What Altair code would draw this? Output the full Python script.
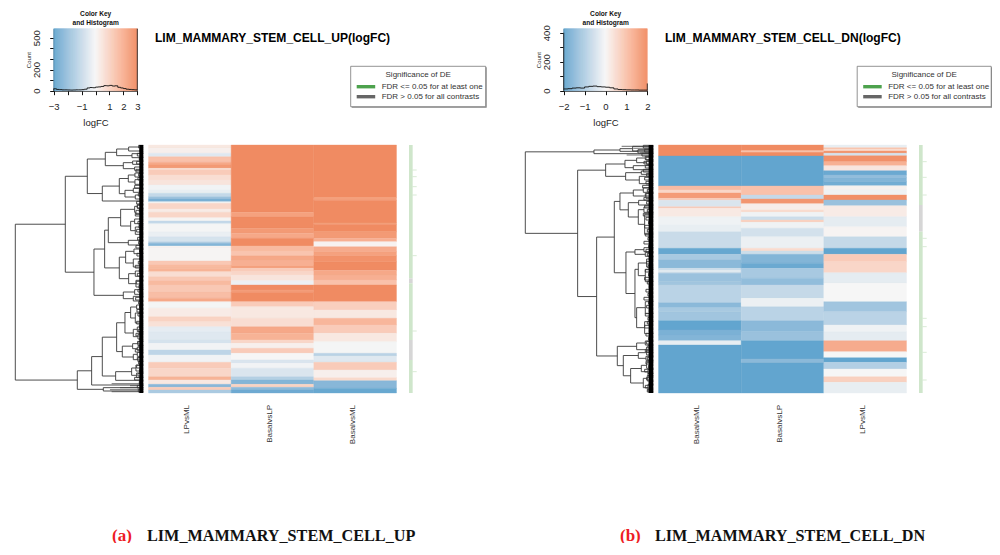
import altair as alt
import pandas as pd

W, H = 984, 535
ORANGE, MID, BLUE = "#F08B62", "#F6F6F6", "#62A5CF"
SANS = "Liberation Sans"
SERIF = "Liberation Serif"

# ---------- panel (a) heat map: row breaks (745 row units) and logFC per segment ----------
a_lp_b = [30,40,55,65,82,90,100,105,120,135,150,165,175,185,192,200,205,222,232,248,258,266,290,305,320,325,333,340,378,390,400,410,425,438,450,470,490,500,505,520,545,560,575,590,615,625,645,660,682,700,725,735,748,757,765,774]
a_lp_v = [0.4,0.2,-0.5,1.5,2.2,2.6,0.7,1.2,0.7,0.5,-0.1,-0.3,-1.1,-1.9,-2.6,0,0.9,0.3,0.9,0.05,-1.1,-0.05,-0.25,-0.7,-1.4,-2.4,0.1,0.05,1.3,1.7,1.9,0.7,1.3,1.7,1.3,1.6,2.2,0,-0.05,0.3,1.0,0.6,-0.35,-0.5,-0.7,-0.1,-1.2,-0.1,1.2,0.9,1.9,0.4,-2.3,1.2,-1.6]
a_bl_b = [30,232,245,280,295,310,333,348,362,375,392,400,410,420,437,450,465,472,500,515,550,575,595,615,625,640,655,675,685,700,725,735,748,757,765,774]
a_bl_v = [3,2.4,3,2.6,2.2,3,1.7,1.4,2.2,2.0,2.4,1.2,0.9,0.5,-0.2,3,2.5,3,1.2,0.4,0.7,2.2,1.9,0.9,0.2,1.2,0,-0.6,-0.1,-0.6,-1.4,-2.4,1.0,-2.2,-2.8]
a_bm_b = [30,188,196,264,268,290,310,320,335,350,362,380,406,420,435,450,500,525,550,570,595,620,655,663,682,705,728,737,760,774]
a_bm_v = [3,2.4,3,2.4,3,2.6,2.0,0.1,2.1,2.4,2.8,3,2.2,2.0,1.5,3,1.1,0.4,1.8,1.2,0.4,-0.05,-1.3,-0.5,1.2,0.2,0.8,-2.3,-2.9]

# ---------- panel (b) heat map ----------
b_bm_b = [30,63,153,165,174,190,196,215,220,245,270,290,340,358,375,400,407,410,415,440,450,503,518,530,557,585,600,617,630,774]
b_bm_v = [2,-2,1.1,0.6,1.7,0.8,-0.4,0.8,0.25,-0.1,-0.2,-0.65,-1.95,-1.1,-1.5,-0.6,-0.1,-0.6,-1.3,-1.2,-0.85,-1.5,-1.1,-1.2,-2,-1.7,-1.6,-0.2,-2]
b_bl_b = [30,47,52,63,153,180,192,206,225,232,245,255,262,280,305,340,348,358,385,400,430,450,490,515,557,590,617,672,684,774]
b_bl_v = [2,0.9,2,-2,1.0,-0.7,1.8,0.15,0.5,-0.1,-0.6,0.7,-0.1,-0.5,-0.15,0.5,-0.6,-1.6,-1.9,-1.1,-1.4,-0.7,-0.15,-0.85,-1.5,-1.3,-2,-1.5,-2]
b_lp_b = [30,38,42,48,55,62,80,92,107,120,128,140,152,165,180,195,212,245,275,305,340,358,380,413,445,500,530,570,590,617,650,668,682,702,725,742,774]
b_lp_v = [-0.2,1.0,0.5,1.8,-0.5,1.9,1.3,0.3,-1.9,-1.4,-1.6,-1.8,0.1,-0.1,1.9,-1.3,0.2,-0.25,0.05,-0.7,-2,0.8,0.6,-0.25,0,-1.2,-0.85,-0.1,-0.25,1.4,0,-2,-0.95,0,0.7,-0.2]

# ---------- histograms in the colour keys ----------
a_hist_edges = [-3,-2.8,-2.6,-2.4,-2.2,-2,-1.8,-1.6,-1.4,-1.2,-1,-0.8,-0.6,-0.4,-0.2,0,0.2,0.4,0.6,0.8,1,1.2,1.4,1.6,1.8,2,2.2,2.4,2.6,2.8,3]
a_hist_count = [18,12,10,8,8,7,6,7,8,8,10,14,26,30,28,34,36,40,48,46,50,44,46,32,26,20,14,12,10,8,8]
b_hist_edges = [-2,-1.8,-1.6,-1.4,-1.2,-1,-0.8,-0.6,-0.4,-0.2,0,0.2,0.4,0.6,0.8,1,1.2,1.4,1.6,1.8,2]
b_hist_count = [12,14,18,20,18,26,30,32,28,26,24,20,12,8,7,6,5,5,4,4,4]

# ---------- dendrograms: (height, child, child), a bare number is a tip at that row ----------
a_tree = (384,
  (234,
    (168,
      (114, (80,(44,36,48),(34,56,68)), (60,(32,78,88),(26,96,106))),
      (123, (72,(45,(25,114,126),(25,134,148)),(55,(30,160,172),(24,180,192))), 198)),
    (148,
      (116,
        (105, (68,(26,(18,208,220),(22,226,238)),(38,(26,252,266),(24,276,298))), (45,316,330)),
        (72, (53,(28,342,356),(30,372,396)), (44,(24,408,424),(22,436,456)))),
      (60,(26,464,478),(30,484,498)))),
  (198,
    (155,
      (123,
        (80,
          (55,(38,(20,510,522),(24,534,564)),(30,(18,576,590),(16,598,612))),
          (63,(32,(16,620,632),(18,636,646)),(30,(18,652,664),(16,668,680)))),
        (83,(35,(22,690,708),(20,714,728)),736)),
      750),
    (120,758,768)))
b_tree = (384,
  (178,
    (100,(62,34,48),(46,44,54)),
    56),
  (227,
    (143,
      (85,(50,(24,64,74),(20,78,88)),(60,92,104)),
      (83,(36,108,118),(42,124,146))),
    (170,
      (117,
        (100,
          (60,(30,158,172),(22,176,190)),
          (75,(44,196,210),(45,(28,216,232),(26,238,298)))),
        (82,
          (55,(28,338,350),(24,352,364)),
          (55,
            (45,(20,372,396),(24,404,440)),
            (50,(24,500,536),(26,560,596))))),
      (108,
        (50,(24,618,630),(20,636,652)),
        (90,
          (45,(20,646,660),(22,664,676)),
          (68,(36,(20,682,700),(16,704,716)),(30,(18,722,738),(16,748,768))))))))

# short jagged brackets beside the heat map, one per 12 row units
a_fine = [14,10,18,12,20,8,22,14,16,10,26,12,15,9,20,18,12,24,10,16,13,20,8,17,14,22,11,19,10,15,24,12,18,9,21,13,16,10,23,14,11,19,16,8,20,12,15,22,10,17,13,24,9,18,14,20,11,16,26,12,18,15]
b_fine = [30,26,34,22,28,24,30,20,26,22,32,18,24,28,20,26,18,30,22,14,26,18,24,16,28,14,22,18,12,20,16,24,14,26,18,12,22,16,28,14,20,12,24,16,18,26,12,22,14,20,16,24,12,18,22,14,26,16,20,12,24,18]
a_grey_rows = [746,752,758,764,770]
a_grey_h = [95,40,70,100,95]
b_grey_rows = [34,40,48,54,60]
b_grey_h = [95,60,50,40,80]

# significance strip
a_strip_b = [30,430,445,615,675,774]
a_strip_s = ["FDR","NS","FDR","NS","FDR"]
a_strip_ticks = [105,125,155,180,362,588,710]
b_strip_b = [30,210,290,774]
b_strip_s = ["FDR","NS","FDR"]
b_strip_ticks = [80,127,180,310,335,550,575,652,735]

layers = []

def P(v):
    return v - 8

def text(s, x, y, size, color="#222222", font=SANS, weight="normal", align="left", angle=0):
    layers.append(alt.Chart(pd.DataFrame({"t": [s]})).mark_text(
        font=font, fontSize=size, color=color, fontWeight=weight, align=align,
        baseline="middle", angle=angle).encode(text="t:N", x=alt.value(P(x)), y=alt.value(P(y))))

def box(x0, x1, y0, y1, **kw):
    layers.append(alt.Chart(pd.DataFrame({"a": [0]})).mark_rect(**kw).encode(
        x=alt.value(P(x0)), x2=alt.value(P(x1)), y=alt.value(P(y0)), y2=alt.value(P(y1))))

def hline(x0, x1, y, color, width):
    layers.append(alt.Chart(pd.DataFrame({"a": [0]})).mark_rule(color=color, strokeWidth=width).encode(
        x=alt.value(P(x0)), x2=alt.value(P(x1)), y=alt.value(P(y))))

def walk(node, hs, vs, tips):
    if not isinstance(node, tuple):
        return 0, node
    h, a, b = node
    ha, ya = walk(a, hs, vs, tips)
    hb, yb = walk(b, hs, vs, tips)
    vs.append(dict(h=h, y0=ya, y1=yb))
    hs.append(dict(h0=h, h1=ha, y=ya))
    hs.append(dict(h0=h, h1=hb, y=yb))
    return h, (ya + yb) / 2

def panel(dx, lx, lw, lim, ticks_x, hidden_x, ticks_y, hidden_y, ymax, name,
          edges, counts, spikes, tree, fine, band, grey_rows, grey_h,
          cols, strip_b, strip_s, strip_ticks):
    # colour key
    dom = [-lim, 0, lim]
    rng = [BLUE, MID, ORANGE]
    cscale = alt.Scale(domain=dom, range=rng)
    kx = alt.Scale(domain=[-lim, lim], range=[P(53.7 + dx), P(137.3 + dx)], nice=False)
    ky = alt.Scale(domain=[0, ymax], range=[P(90.7), P(28.7)], nice=False)
    n = 84
    key = pd.DataFrame({"x0": [-lim + 2 * lim * i / n for i in range(n)],
                        "x1": [-lim + 2 * lim * (i + 1) / n for i in range(n)]})
    key["v"] = (key.x0 + key.x1) / 2
    key["y0"] = 0
    key["y1"] = ymax
    hx = ",".join(str(v) for v in hidden_x) or "999"
    hy = ",".join(str(v) for v in hidden_y) or "99999"
    layers.append(alt.Chart(key).mark_rect(strokeWidth=0.5).encode(
        x=alt.X("x0:Q", scale=kx, axis=alt.Axis(
            orient="bottom", offset=P(90.7) - H, values=ticks_x, title="logFC", titleFont=SANS, titleFontSize=9.5,
            titleFontWeight="normal", titleColor="#222222", titlePadding=6, labelFont=SANS, labelFontSize=9.5,
            labelColor="#222222", tickColor="#111111", domainColor="#111111", tickSize=4, labelPadding=7, grid=False,
            labelFlush=False, labelOverlap=False,
            labelExpr="indexof([%s],datum.value)>=0?'':replace(''+datum.value,'-','\u2212')" % hx)),
        x2="x1:Q",
        y=alt.Y("y0:Q", scale=ky, axis=alt.Axis(
            orient="left", offset=-P(53.7 + dx), values=ticks_y, title="Count", titleFont=SANS, titleFontSize=6,
            titleFontWeight="normal", titleColor="#222222", titlePadding=0, labelFont=SANS, labelFontSize=9.5,
            labelColor="#222222", tickColor="#111111", domainColor="#111111", tickSize=4, labelPadding=8, grid=False,
            labelAngle=270, labelAlign="center", labelBaseline="bottom", labelFlush=False, labelOverlap=False,
            labelExpr="indexof([%s],datum.value)>=0?'':''+datum.value" % hy)),
        y2="y1:Q",
        color=alt.Color("v:Q", scale=cscale, legend=None),
        stroke=alt.Stroke("v:Q", scale=cscale, legend=None),
    ))
    hist = pd.DataFrame({"x": edges, "c": counts})
    layers.append(alt.Chart(hist).mark_line(interpolate="step-after", color="#111111", strokeWidth=0.9).encode(
        x=alt.X("x:Q", scale=kx, axis=None), y=alt.Y("c:Q", scale=ky, axis=None)))
    sp = pd.DataFrame({"x": [s[0] for s in spikes], "c": [s[1] for s in spikes], "z": 0})
    layers.append(alt.Chart(sp).mark_rule(color="#222222", strokeWidth=0.9).encode(
        x=alt.X("x:Q", scale=kx, axis=None), y=alt.Y("c:Q", scale=ky, axis=None), y2="z:Q"))
    text("Color Key", 95.7 + dx, 14, 6.6, weight="bold", align="center", color="#111111")
    text("and Histogram", 95.7 + dx, 22.8, 6.6, weight="bold", align="center", color="#111111")
    text(name + "(logFC)", 155 + dx, 37.8, 12.05, weight="bold", color="#000000")

    # legend
    box(lx + 1, lx + lw + 1, 67.3, 107.7, color="#8a8a8a")
    box(lx, lx + lw, 66.3, 106.7, fill="#ffffff", stroke="#777777", strokeWidth=0.8)
    text("Significance of DE", lx + lw / 2, 74.6, 8, align="center", color="#333333")
    hline(lx + 6, lx + 24.5, 86.7, "#4DA24D", 3.4)
    hline(lx + 6, lx + 24.5, 96.7, "#666666", 3.4)
    text("FDR <= 0.05 for at least one", lx + 31, 87.4, 8, color="#333333")
    text("FDR > 0.05 for all contrasts", lx + 31, 97.4, 8, color="#333333")

    # dendrogram
    tx = alt.Scale(domain=[0, 384], range=[P(143.3 + dx), P(15.3 + dx)], nice=False)
    ty = alt.Scale(domain=[30, 774], range=[P(145), P(393)], nice=False)
    hs, vs, tips = [], [], []
    walk(tree, hs, vs, tips)
    hd = pd.DataFrame(hs)
    vd = pd.DataFrame(vs)
    for i, h in enumerate(fine):
        y = 30 + 12 * i
        vd.loc[len(vd)] = [h, y + 1, y + 9]
        hd.loc[len(hd)] = [h, 0, y + 1]
        hd.loc[len(hd)] = [h, 0, y + 9]
    gd = pd.DataFrame({"h0": grey_h, "h1": 0, "y": grey_rows})
    layers.append(alt.Chart(gd).mark_rule(color="#8c8c8c", strokeWidth=1.2).encode(
        x=alt.X("h0:Q", scale=tx, axis=None), x2="h1:Q", y=alt.Y("y:Q", scale=ty, axis=None)))
    layers.append(alt.Chart(hd).mark_rule(color="#3a3a3a", strokeWidth=0.9).encode(
        x=alt.X("h0:Q", scale=tx, axis=None), x2="h1:Q", y=alt.Y("y:Q", scale=ty, axis=None)))
    layers.append(alt.Chart(vd).mark_rule(color="#3a3a3a", strokeWidth=0.9).encode(
        x=alt.X("h:Q", scale=tx, axis=None), y=alt.Y("y0:Q", scale=ty, axis=None), y2="y1:Q"))
    bd = pd.DataFrame({"h0": [band], "h1": [0], "y0": [30], "y1": [774]})
    layers.append(alt.Chart(bd).mark_rect(color="#000000").encode(
        x=alt.X("h0:Q", scale=tx, axis=None), x2="h1:Q",
        y=alt.Y("y0:Q", scale=ty, axis=None), y2="y1:Q"))

    # heat map
    names = [c[0] for c in cols]
    hx_scale = alt.Scale(domain=names, range=[P(148.5 + dx), P(396.5 + dx)], paddingInner=0, paddingOuter=0)
    rows = []
    for nm, br, va in cols:
        for j, v in enumerate(va):
            rows.append(dict(col=nm, y0=br[j], y1=br[j + 1], v=v))
    layers.append(alt.Chart(pd.DataFrame(rows)).mark_rect(strokeWidth=0.35).encode(
        x=alt.X("col:N", scale=hx_scale, axis=None),
        y=alt.Y("y0:Q", scale=ty, axis=None), y2="y1:Q",
        color=alt.Color("v:Q", scale=cscale, legend=None),
        stroke=alt.Stroke("v:Q", scale=cscale, legend=None)))
    for i, nm in enumerate(names):
        text(nm, 146 + dx + 82.67 * (i + 0.5), 405, 8, align="right", angle=270, color="#333333")

    # significance strip
    sx = alt.Scale(domain=[0, 2], range=[P(409 + dx), P(416.7 + dx)], nice=False)
    srows = [dict(a=0, b=0.95, y0=strip_b[j], y1=strip_b[j + 1], s=strip_s[j]) for j in range(len(strip_s))]
    layers.append(alt.Chart(pd.DataFrame(srows)).mark_rect().encode(
        x=alt.X("a:Q", scale=sx, axis=None), x2="b:Q",
        y=alt.Y("y0:Q", scale=ty, axis=None), y2="y1:Q",
        color=alt.Color("s:N", scale=alt.Scale(domain=["FDR", "NS"], range=["#CFE6CB", "#D6D6D6"]), legend=None)))
    st = pd.DataFrame({"y": strip_ticks, "a": 0.9, "b": 2})
    layers.append(alt.Chart(st).mark_rule(color="#CFE6CB", strokeWidth=0.8).encode(
        x=alt.X("a:Q", scale=sx, axis=None), x2="b:Q", y=alt.Y("y:Q", scale=ty, axis=None)))

panel(0, 350.7, 135, 3, [-3,-2,-1,0,1,2,3], [-2,0], [0,100,200,300,400,500], [100,300,400], 585,
      "LIM_MAMMARY_STEM_CELL_UP", a_hist_edges, a_hist_count, [(3, 585), (-3, 20)],
      a_tree, a_fine, 12, a_grey_rows, a_grey_h,
      [("LPvsML", a_lp_b, a_lp_v), ("BasalvsLP", a_bl_b, a_bl_v), ("BasalvsML", a_bm_b, a_bm_v)],
      a_strip_b, a_strip_s, a_strip_ticks)
panel(510, 857.2, 134, 2, [-2,-1,0,1,2], [], [0,100,200,300,400], [100,300], 428,
      "LIM_MAMMARY_STEM_CELL_DN", b_hist_edges, b_hist_count, [(-2, 400), (2, 50)],
      b_tree, b_fine, 14, b_grey_rows, b_grey_h,
      [("BasalvsML", b_bm_b, b_bm_v), ("BasalvsLP", b_bl_b, b_bl_v), ("LPvsML", b_lp_b, b_lp_v)],
      b_strip_b, b_strip_s, b_strip_ticks)

text("(a)", 112, 535.5, 17, color="#EE1C25", font=SERIF, weight="bold")
text("LIM_MAMMARY_STEM_CELL_UP", 147, 535.5, 16.2, color="#111111", font=SERIF, weight="bold")
text("(b)", 620, 535.5, 17, color="#EE1C25", font=SERIF, weight="bold")
text("LIM_MAMMARY_STEM_CELL_DN", 655, 535.5, 16.2, color="#111111", font=SERIF, weight="bold")

chart = alt.layer(*layers).resolve_scale(
    x="independent", y="independent", color="independent", stroke="independent"
).properties(
    width=W, height=H, padding=0, autosize=alt.AutoSizeParams(type="none"), background="white"
).configure_view(stroke=None)
chart.save("out.html", embed_options={"renderer": "svg", "actions": False})
